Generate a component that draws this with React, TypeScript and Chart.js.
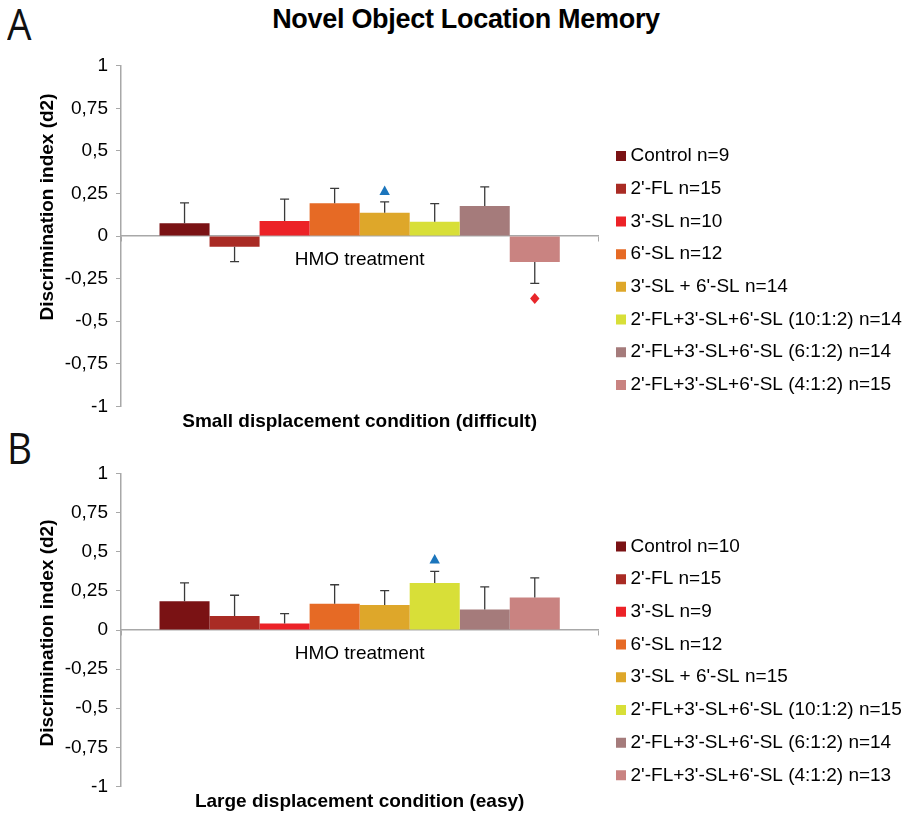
import React, { useEffect, useRef } from "react";
import { Chart, registerables } from "chart.js";

Chart.register(...registerables);

const FONT = '"Liberation Sans", Arial, Helvetica, sans-serif';
Chart.defaults.font.family = FONT;
Chart.defaults.color = "#000";

// Treatment groups, shared by both panels
const treatmentGroups = [
  "Control",
  "2'-FL",
  "3'-SL",
  "6'-SL",
  "3'-SL + 6'-SL",
  "2'-FL+3'-SL+6'-SL (10:1:2)",
  "2'-FL+3'-SL+6'-SL (6:1:2)",
  "2'-FL+3'-SL+6'-SL (4:1:2)",
];
const groupColors = ["#7a1214", "#a92b24", "#ec2227", "#e66a25", "#dea72a", "#d8df38", "#a57b7b", "#c98381"];
const categoryLabels = ["HMO treatment"];
const yTickValues = [-1, -0.75, -0.5, -0.25, 0, 0.25, 0.5, 0.75, 1];

// Small displacement condition (difficult)
const smallN = [9, 15, 10, 12, 14, 14, 14, 15];
const smallMean = [0.075, -0.063, 0.088, 0.192, 0.137, 0.084, 0.176, -0.153];
const smallSem = [0.119, 0.088, 0.128, 0.088, 0.063, 0.106, 0.112, 0.125];
const smallMarkShape = [null, null, null, null, "triangle", null, null, "diamond"];
const smallMarkValue = [null, null, null, null, 0.267, null, null, -0.367];

// Large displacement condition (easy)
const largeN = [10, 15, 9, 12, 15, 15, 14, 13];
const largeMean = [0.184, 0.09, 0.041, 0.167, 0.16, 0.301, 0.131, 0.208];
const largeSem = [0.117, 0.132, 0.064, 0.122, 0.092, 0.073, 0.145, 0.125];
const largeMarkShape = [null, null, null, null, null, "triangle", null, null];
const largeMarkValue = [null, null, null, null, null, 0.453, null, null];

const AXIS_COLOR = "#a8a8a8";
const MARK_COLORS: Record<string, string> = { triangle: "#1b75bc", diamond: "#e8262a" };

type PanelProps = {
  top: number;
  height: number;
  padTop: number;
  padBottom: number;
  caption: string;
  captionPadBottom: number;
  yTitleShift: number;
  n: number[];
  mean: number[];
  sem: number[];
  markShape: (string | null)[];
  markValue: (number | null)[];
};

function Panel(props: PanelProps) {
  const ref = useRef<HTMLCanvasElement>(null);

  useEffect(() => {
    const { n, mean, sem, markShape, markValue, caption, yTitleShift } = props;

    // SEM whiskers, one-sided, away from zero
    const semBars = {
      id: "semBars",
      afterDatasetsDraw(chart: any) {
        const { ctx } = chart;
        const yScale = chart.scales.y;
        ctx.save();
        ctx.strokeStyle = "#3a3a3a";
        ctx.lineWidth = 1.3;
        chart.data.datasets.forEach((_ds: any, i: number) => {
          const bar = chart.getDatasetMeta(i).data[0];
          const m = mean[i];
          const end = m >= 0 ? m + sem[i] : m - sem[i];
          const yEnd = yScale.getPixelForValue(end);
          ctx.beginPath();
          ctx.moveTo(bar.x, bar.y);
          ctx.lineTo(bar.x, yEnd);
          ctx.moveTo(bar.x - 4.5, yEnd);
          ctx.lineTo(bar.x + 4.5, yEnd);
          ctx.stroke();
        });
        ctx.restore();
      },
    };

    // Significance symbols above / below the bars
    const sigMarks = {
      id: "sigMarks",
      afterDatasetsDraw(chart: any) {
        const { ctx } = chart;
        const yScale = chart.scales.y;
        ctx.save();
        markShape.forEach((shape, i) => {
          const v = markValue[i];
          if (!shape || v === null) return;
          const x = chart.getDatasetMeta(i).data[0].x;
          const y = yScale.getPixelForValue(v);
          ctx.fillStyle = MARK_COLORS[shape];
          ctx.beginPath();
          if (shape === "triangle") {
            ctx.moveTo(x, y - 5);
            ctx.lineTo(x + 5.2, y + 4.5);
            ctx.lineTo(x - 5.2, y + 4.5);
          } else {
            ctx.moveTo(x, y - 5.5);
            ctx.lineTo(x + 4.7, y);
            ctx.lineTo(x, y + 5.5);
            ctx.lineTo(x - 4.7, y);
          }
          ctx.closePath();
          ctx.fill();
        });
        ctx.restore();
      },
    };

    // Rotated y-axis caption
    const sideTitle = {
      id: "sideTitle",
      afterDraw(chart: any) {
        const { ctx, chartArea } = chart;
        ctx.save();
        ctx.font = `bold 19px ${FONT}`;
        ctx.fillStyle = "#000";
        ctx.textAlign = "center";
        ctx.textBaseline = "middle";
        ctx.translate(48, (chartArea.top + chartArea.bottom) / 2 + yTitleShift);
        ctx.rotate(-Math.PI / 2);
        ctx.fillText("Discrimination index (d2)", 0, 0);
        ctx.restore();
      },
    };

    const chart = new Chart(ref.current as HTMLCanvasElement, {
      type: "bar",
      data: {
        labels: categoryLabels,
        datasets: treatmentGroups.map((g, i) => ({
          label: `${g} n=${n[i]}`,
          data: [mean[i]],
          backgroundColor: groupColors[i],
          borderWidth: 0,
          categoryPercentage: 0.8386,
          barPercentage: 1,
        })),
      },
      options: {
        responsive: false,
        animation: false,
        events: [],
        layout: { padding: { top: props.padTop, bottom: props.padBottom, left: 0, right: 0 } },
        scales: {
          x: {
            position: { y: 0 },
            offset: true,
            grid: { display: true, drawOnChartArea: false, offset: true, tickLength: 5, color: AXIS_COLOR },
            border: { color: AXIS_COLOR, width: 1.5 },
            ticks: { font: { size: 19 }, color: "#000", padding: 7 },
          },
          y: {
            min: -1,
            max: 1,
            afterBuildTicks: (s: any) => {
              s.ticks = yTickValues.map((v) => ({ value: v }));
            },
            afterFit: (s: any) => {
              s.width = 121;
            },
            ticks: {
              font: { size: 19 },
              color: "#000",
              padding: 8,
              callback: (v: any) => String(v).replace(".", ","),
            },
            grid: { drawOnChartArea: false, tickLength: 5, color: AXIS_COLOR },
            border: { color: AXIS_COLOR, width: 1.5 },
          },
          gap: {
            type: "linear",
            axis: "y",
            position: "right",
            display: true,
            grid: { display: false },
            ticks: { display: false },
            border: { display: false },
            afterFit: (s: any) => {
              s.width = 9;
            },
          },
        },
        plugins: {
          legend: {
            position: "right",
            align: "center",
            maxWidth: 300.7,
            labels: {
              font: { size: 19 },
              color: "#000",
              usePointStyle: true,
              pointStyle: "rect",
              boxWidth: 0.01,
              boxHeight: 10,
              padding: 13.7,
            },
          },
          title: {
            display: true,
            text: caption,
            position: "bottom",
            fullSize: false,
            font: { size: 19, weight: "bold" },
            color: "#000",
            padding: { top: 4, bottom: props.captionPadBottom },
          },
          tooltip: { enabled: false },
        },
      } as any,
      plugins: [semBars, sigMarks, sideTitle],
    });
    return () => chart.destroy();
  }, []);

  return (
    <canvas
      ref={ref}
      width={908}
      height={props.height}
      style={{ position: "absolute", left: 0, top: props.top, width: 908, height: props.height }}
    />
  );
}

const letterStyle = (top: number): React.CSSProperties => ({
  position: "absolute",
  left: 7,
  top,
  font: `400 44px "Open Sans", "DejaVu Sans", sans-serif`,
  lineHeight: "44px",
  color: "#111",
  transform: "scaleX(0.88)",
  transformOrigin: "left top",
});

export default function App() {
  return (
    <div
      style={{
        position: "absolute",
        left: 0,
        top: 0,
        width: 908,
        height: 816,
        overflow: "hidden",
        background: "#fff",
        fontFamily: FONT,
      }}
    >
      <div
        style={{
          position: "absolute",
          left: 216,
          width: 500,
          top: 5.6,
          textAlign: "center",
          font: `bold 27px ${FONT}`,
          lineHeight: "27px",
          letterSpacing: "-0.3px",
          color: "#000",
        }}
      >
        Novel Object Location Memory
      </div>
      <div style={letterStyle(1)}>A</div>
      <div style={letterStyle(425)}>B</div>
      <Panel
        top={40}
        height={436}
        padTop={25.7}
        padBottom={0.7}
        caption="Small displacement condition (difficult)"
        captionPadBottom={42.2}
        yTitleShift={-29}
        n={smallN}
        mean={smallMean}
        sem={smallSem}
        markShape={smallMarkShape}
        markValue={smallMarkValue}
      />
      <Panel
        top={440}
        height={409}
        padTop={33.5}
        padBottom={0.7}
        caption="Large displacement condition (easy)"
        captionPadBottom={35}
        yTitleShift={3}
        n={largeN}
        mean={largeMean}
        sem={largeSem}
        markShape={largeMarkShape}
        markValue={largeMarkValue}
      />
    </div>
  );
}
